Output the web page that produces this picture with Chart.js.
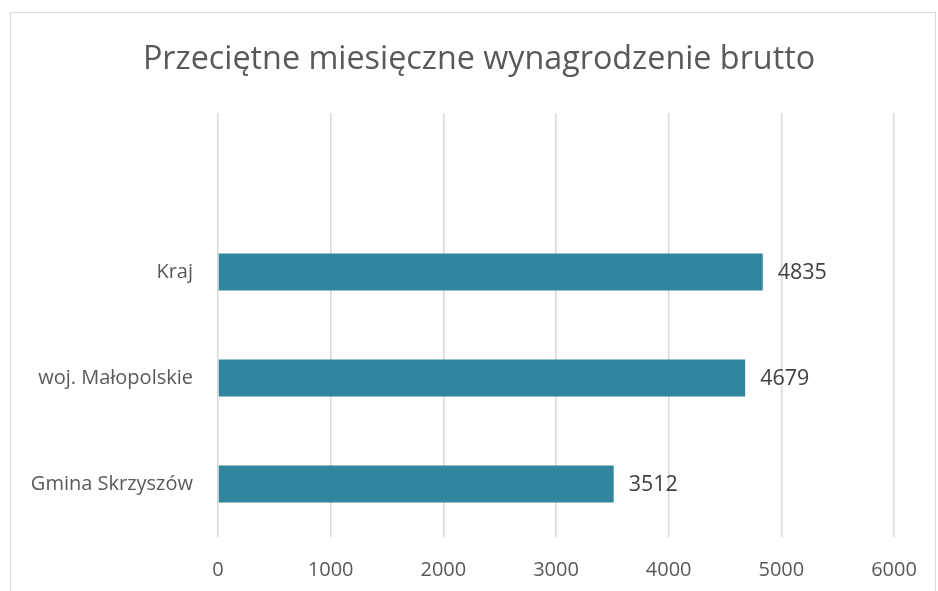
<!DOCTYPE html>
<html>
<head>
<meta charset="utf-8">
<script src="https://cdn.jsdelivr.net/npm/chart.js@4/dist/chart.umd.min.js"></script>
<style>
  html, body { margin: 0; padding: 0; background: #fff; }
  #ramka {
    position: absolute; left: 10px; top: 12px; width: 926px; height: 600px;
    border: 1px solid #d9d9d9; box-sizing: border-box;
  }
  #wykres { position: absolute; left: 0; top: 0; }
</style>
</head>
<body>
<div id="ramka"></div>
<canvas id="wykres" width="938" height="591"></canvas>
<script>
// dane (pierwszy wiersz pusty, tak jak w oryginale)
var kategorie = ["", "Kraj", "woj. Małopolskie", "Gmina Skrzyszów"];
var wartosci = [null, 4835, 4679, 3512];
var tytul = "Przeciętne miesięczne wynagrodzenie brutto";
var osX = { min: 0, max: 6000, krok: 1000 };

var czcionka = "'Open Sans', 'Noto Sans', sans-serif";

// tytul i etykiety wartosci na koncu slupkow
var etykietyPlugin = {
    id: "etykiety",
    afterDatasetsDraw: function (chart) {
        let ctx = chart.ctx;
        let meta = chart.getDatasetMeta(0);
        ctx.save();
        ctx.font = "21.5px " + czcionka;
        ctx.fillStyle = "#404040";
        ctx.textAlign = "left";
        ctx.textBaseline = "middle";
        meta.data.forEach(function (bar, i) {
            if (wartosci[i] === null) return;
            ctx.fillText(String(wartosci[i]), bar.x + 15, bar.y + 1);
        });

        ctx.font = "32.3px " + czcionka;
        ctx.fillStyle = "#595959";
        ctx.textAlign = "center";
        ctx.fillText(tytul, 479, 60);
        ctx.restore();
    }
};

let ctx = document.getElementById("wykres").getContext("2d");
let wykres = new Chart(ctx, {
    type: "bar",
    data: {
        labels: kategorie,
        datasets: [{
            data: wartosci,
            backgroundColor: "#31859C",
            borderWidth: 0,
            barPercentage: 0.35,
            categoryPercentage: 1
        }]
    },
    options: {
        indexAxis: "y",
        responsive: false,
        animation: false,
        layout: { padding: { left: 0, right: 44, top: 113, bottom: 0 } },
        plugins: {
            legend: { display: false },
            tooltip: { enabled: false },
            title: { display: false }
        },
        scales: {
            x: {
                min: osX.min,
                max: osX.max,
                ticks: {
                    stepSize: osX.krok,
                    color: "#595959",
                    padding: 21,
                    font: { family: czcionka, size: 20 },
                    callback: function (v) { return String(v); }
                },
                grid: { color: "#d9d9d9", lineWidth: 1.5, drawTicks: false },
                border: { display: false },
                afterFit: function (s) { s.height = 54; }
            },
            y: {
                ticks: {
                    color: "#595959",
                    padding: 25,
                    font: { family: czcionka, size: 20 }
                },
                grid: { display: false, drawTicks: false },
                border: { display: false },
                afterFit: function (s) { s.width = 218; }
            }
        }
    },
    plugins: [etykietyPlugin]
});
</script>
</body>
</html>
